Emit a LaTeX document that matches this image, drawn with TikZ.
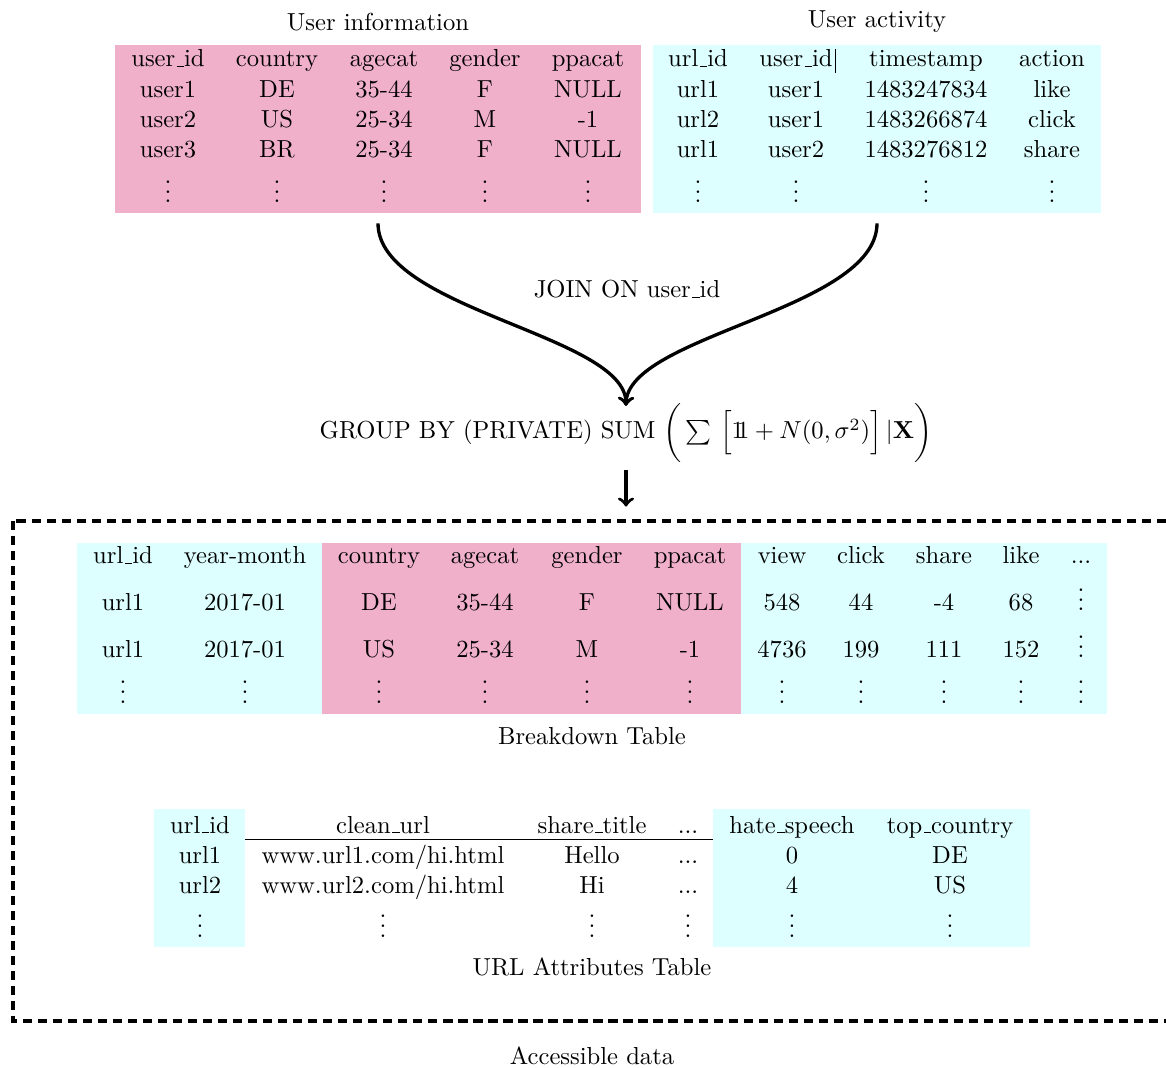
\documentclass[tikz,border=0pt]{standalone}
\usepackage{amsmath}
\usetikzlibrary{fit}
\definecolor{pinkc}{RGB}{240,176,202}
\definecolor{cyanc}{RGB}{222,255,255}
\newcommand{\indone}{\mathrm{1\mkern-5mu1}}
\newcommand{\tdots}{.\kern0pt.\kern0pt.}
\newcommand{\us}{\leavevmode\kern.06em\vbox{\hrule width.3em}}
\begin{document}
\begin{tikzpicture}[x=0.4065pt,y=-0.4065pt,
  cell/.style={anchor=base,inner sep=0pt},
  bg/.style={inner sep=0pt,draw=none},
  conn/.style={line width=1.35pt,->},
  lbl/.style={anchor=base,inner sep=0pt}]
\useasboundingbox (0,0) rectangle (1166,1068);
% ---------- backgrounds
\node[bg,fill=pinkc,fit={(115,45)(641,213)}] (ui) {};
\node[bg,fill=cyanc,fit={(653,45)(1101,213)}] (ua) {};
\node[bg,fill=cyanc,fit={(77,543)(1107,714)}] (bd) {};
\node[bg,fill=pinkc,fit={(322,543)(741,714)}] (bdp) {};
\node[bg,fill=cyanc,fit={(154,809)(245,947)}] (urla) {};
\node[bg,fill=cyanc,fit={(713,809)(1030,947)}] (urlb) {};
% ---------- titles
\node[lbl] (tui) at (378,31) {User information};
\node[lbl] (tua) at (877,28) {User activity};
% ---------- user information table
\foreach \x/\t [count=\i] in {168/user\us id,277/country,384/agecat,485/gender,588/ppacat}
  \node[cell] (uih\i) at (\x,67) {\t};
\foreach \x/\t [count=\i] in {168/user1,277/DE,384/35-44,485/F,588/NULL}
  \node[cell] (uia\i) at (\x,98) {\t};
\foreach \x/\t [count=\i] in {168/user2,277/US,384/25-34,485/M,588/-1}
  \node[cell] (uib\i) at (\x,128) {\t};
\foreach \x/\t [count=\i] in {168/user3,277/BR,384/25-34,485/F,588/NULL}
  \node[cell] (uic\i) at (\x,158) {\t};
\foreach \x [count=\i] in {168,277,384,485,588}
  \node[cell] (uid\i) at (\x,203) {\vdots};
% ---------- user activity table
\foreach \x/\t [count=\i] in {698/url\us id,796/{user\us id\rlap{\kern1pt\vrule height 7.5pt depth 2.5pt width 0.4pt}},926/timestamp,1052/action}
  \node[cell] (uah\i) at (\x,67) {\t};
\foreach \x/\t [count=\i] in {698/url1,796/user1,926/1483247834,1052/like}
  \node[cell] (uaa\i) at (\x,98) {\t};
\foreach \x/\t [count=\i] in {698/url2,796/user1,926/1483266874,1052/click}
  \node[cell] (uab\i) at (\x,128) {\t};
\foreach \x/\t [count=\i] in {698/url1,796/user2,926/1483276812,1052/share}
  \node[cell] (uac\i) at (\x,158) {\t};
\foreach \x [count=\i] in {698,796,926,1052}
  \node[cell] (uad\i) at (\x,203) {\vdots};
% ---------- join + group by
\node[lbl] (join) at (627,298) {JOIN ON user\us id};
\node[lbl] (grp) at (626,439) {GROUP BY (PRIVATE) SUM $\biggl(\,\sum\mkern6mu\Bigl[\indone+N(0,\sigma^2)\Bigr]\,|\mathbf{X}\biggr)$};
\draw[conn,shorten <=4pt,shorten >=-1.2pt] (ui.south) .. controls (378,310) and (627,335) .. (grp.north);
\draw[conn,shorten <=4pt,shorten >=-1.2pt] (ua.south) .. controls (877,310) and (627,335) .. (grp.north);
\draw[conn,shorten <=2.8pt,shorten >=14.6pt] (grp.south) -- (grp.south |- bd.north);
% ---------- accessible data box
\draw[line width=1.35pt,dash pattern=on 3.7pt off 2.4pt] (13,521) rectangle (1185,1021);
\node[lbl] (acc) at (592,1064) {Accessible data};
% ---------- breakdown table
\foreach \x/\t [count=\i] in {123/url\us id,245/year-month,379/country,485/agecat,587/gender,690/ppacat,782/view,861/click,944/share,1021/like,1081/\tdots}
  \node[cell] (bdh\i) at (\x,564) {\t};
\foreach \x/\t [count=\i] in {123/url1,245/2017-01,379/DE,485/35-44,587/F,690/NULL,782/548,861/44,944/-4,1021/68,1081/\vdots}
  \node[cell] (bda\i) at (\x,611) {\t};
\foreach \x/\t [count=\i] in {123/url1,245/2017-01,379/US,485/25-34,587/M,690/-1,782/4736,861/199,944/111,1021/152,1081/\vdots}
  \node[cell] (bdb\i) at (\x,658) {\t};
\foreach \x [count=\i] in {123,245,379,485,587,690,782,861,944,1021,1081}
  \node[cell] (bdd\i) at (\x,703) {\vdots};
\node[lbl] (bdl) at (592,744) {Breakdown Table};
% ---------- URL attributes table
\foreach \x/\t [count=\i] in {200/url\us id,383/clean\us url,592/share\us title,688/\tdots,792/hate\us speech,950/top\us country}
  \node[cell] (urh\i) at (\x,833) {\t};
\foreach \x/\t [count=\i] in {200/url1,383/{www.url1.com/hi.html},592/Hello,688/\tdots,792/0,950/DE}
  \node[cell] (ura\i) at (\x,863) {\t};
\foreach \x/\t [count=\i] in {200/url2,383/{www.url2.com/hi.html},592/Hi,688/\tdots,792/4,950/US}
  \node[cell] (urb\i) at (\x,893) {\t};
\foreach \x [count=\i] in {200,383,592,688,792,950}
  \node[cell] (urd\i) at (\x,937) {\vdots};
\draw[line width=0.5pt] (urla.east |- 0,839.5) -- (urlb.west |- 0,839.5);
\node[lbl] (urll) at (592,975) {URL Attributes Table};
\end{tikzpicture}
\end{document}
